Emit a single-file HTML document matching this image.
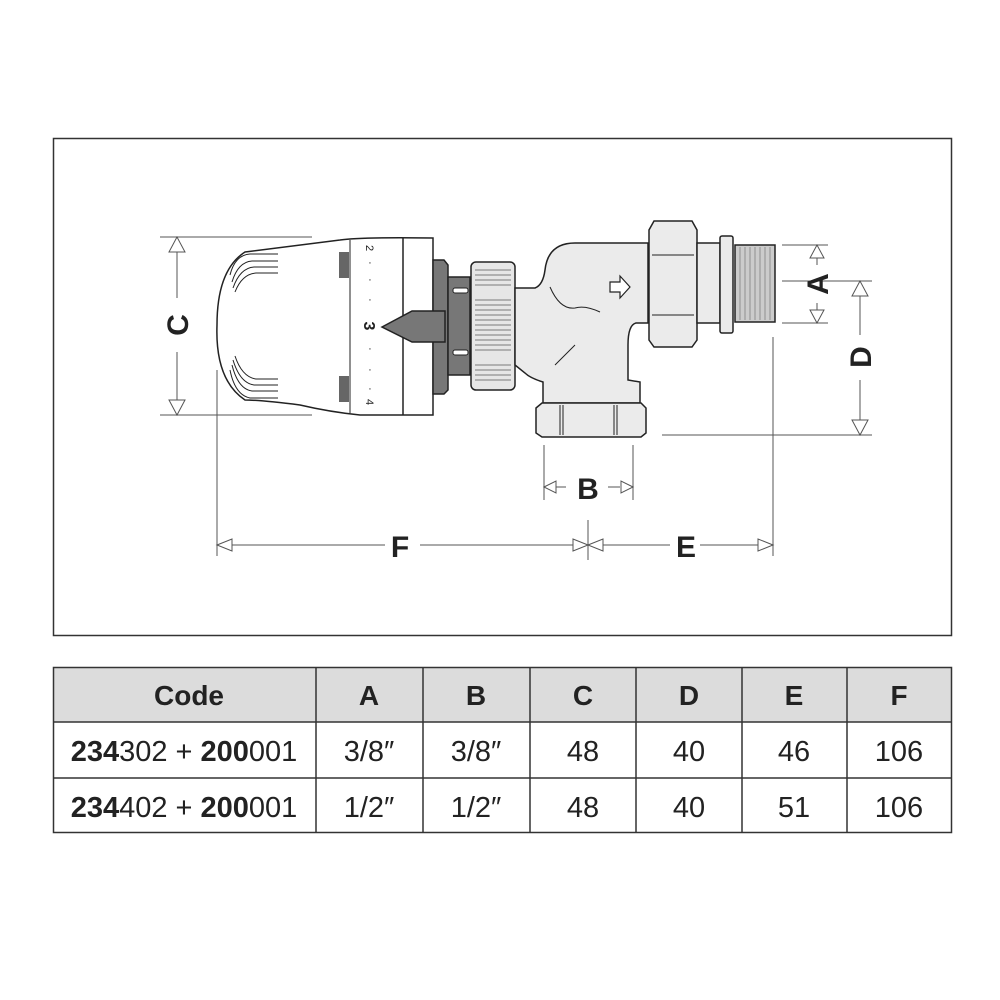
<!DOCTYPE html>
<html><head><meta charset="utf-8"><style>
html,body{margin:0;padding:0;background:#fff;}
svg{display:block;}
text{font-family:"Liberation Sans",sans-serif;}
</style></head><body>
<svg width="1000" height="1000" viewBox="0 0 1000 1000" xmlns="http://www.w3.org/2000/svg">
<rect x="53.5" y="138.5" width="898" height="497" fill="#fff" stroke="#333" stroke-width="1.5"/>
<!-- dimension lines -->
<g stroke="#555" stroke-width="1" fill="#fff">
<line x1="160" y1="237" x2="312" y2="237"/>
<line x1="160" y1="415" x2="312" y2="415"/>
<line x1="177" y1="252" x2="177" y2="298"/>
<line x1="177" y1="352" x2="177" y2="400"/>
<polygon points="177,237 169,252 185,252"/>
<polygon points="177,415 169,400 185,400"/>
<line x1="217" y1="370" x2="217" y2="556"/>
<line x1="773" y1="337" x2="773" y2="556"/>
<line x1="588" y1="520" x2="588" y2="560"/>
<line x1="544" y1="445" x2="544" y2="500"/>
<line x1="633" y1="445" x2="633" y2="500"/>
<line x1="556" y1="487" x2="566" y2="487"/>
<line x1="608" y1="487" x2="620" y2="487"/>
<polygon points="544,487 556,481 556,493"/>
<polygon points="633,487 621,481 621,493"/>
<line x1="232" y1="545" x2="385" y2="545"/>
<line x1="420" y1="545" x2="573" y2="545"/>
<line x1="603" y1="545" x2="670" y2="545"/>
<line x1="700" y1="545" x2="758" y2="545"/>
<polygon points="217,545 232,539 232,551"/>
<polygon points="588,545 573,539 573,551"/>
<polygon points="588,545 603,539 603,551"/>
<polygon points="773,545 758,539 758,551"/>
<line x1="782" y1="245" x2="828" y2="245"/>
<line x1="782" y1="323" x2="828" y2="323"/>
<line x1="817" y1="258" x2="817" y2="265"/>
<line x1="817" y1="303" x2="817" y2="310"/>
<polygon points="817,245 810,258 824,258"/>
<polygon points="817,323 810,310 824,310"/>
<line x1="782" y1="281" x2="872" y2="281"/>
<line x1="662" y1="435" x2="872" y2="435"/>
<line x1="860" y1="296" x2="860" y2="335"/>
<line x1="860" y1="380" x2="860" y2="420"/>
<polygon points="860,281 852,296 868,296"/>
<polygon points="860,435 852,420 868,420"/>
</g>
<g font-weight="bold" font-size="30" fill="#222" text-anchor="middle">
<text x="177" y="336" transform="rotate(-90 177 325)">C</text>
<text x="400" y="557">F</text>
<text x="588" y="499">B</text>
<text x="686" y="557">E</text>
<text x="817" y="295" transform="rotate(-90 817 284)">A</text>
<text x="860" y="368" transform="rotate(-90 860 357)">D</text>
</g>
<!-- thermostatic head -->
<g stroke="#222" stroke-width="1.5">
<path d="M245,252 Q300,245 340,240 Q360,237 433,238 L433,415 L360,415 Q330,412 300,405 Q260,400 245,400 Q215,380 217,325 Q217,270 245,252Z" fill="#fff"/>
<line x1="403" y1="238" x2="403" y2="415"/>
<line x1="350" y1="240" x2="350" y2="413" stroke-width="1"/>
<rect x="339" y="252" width="10" height="26" fill="#666" stroke="none"/>
<rect x="339" y="376" width="10" height="26" fill="#666" stroke="none"/>
<path d="M230,275 Q235,255 250,254 L278,254 M232,282 Q238,262 252,261 L278,261 M233,288 Q240,268 254,267 L278,267 M235,292 Q242,274 256,273 L278,273" fill="none" stroke-width="1"/>
<path d="M230,370 Q235,395 250,398 L278,398 M232,365 Q238,389 252,391 L278,391 M233,360 Q240,383 254,385 L278,385 M235,356 Q242,377 256,379 L278,379" fill="none" stroke-width="1"/>
<path d="M433,260 L444,260 L448,265 L448,390 L444,394 L433,394Z" fill="#777"/>
<rect x="448" y="277" width="22" height="98" fill="#777"/>
<rect x="453" y="288" width="15" height="5" rx="2" fill="#fff" stroke-width="1"/>
<rect x="453" y="350" width="15" height="5" rx="2" fill="#fff" stroke-width="1"/>
<polygon points="382,327 412,311 445,311 445,342 412,342" fill="#777"/>
<rect x="471" y="262" width="44" height="128" rx="5" fill="#e6e6e6"/>
</g>
<g stroke="#555" stroke-width="0.8">
<line x1="475" y1="270" x2="511" y2="270"/><line x1="475" y1="275" x2="511" y2="275"/><line x1="475" y1="280" x2="511" y2="280"/><line x1="475" y1="285" x2="511" y2="285"/>
<line x1="475" y1="300" x2="511" y2="300"/><line x1="475" y1="305" x2="511" y2="305"/><line x1="475" y1="310" x2="511" y2="310"/><line x1="475" y1="315" x2="511" y2="315"/><line x1="475" y1="320" x2="511" y2="320"/><line x1="475" y1="325" x2="511" y2="325"/><line x1="475" y1="330" x2="511" y2="330"/><line x1="475" y1="335" x2="511" y2="335"/><line x1="475" y1="340" x2="511" y2="340"/><line x1="475" y1="345" x2="511" y2="345"/><line x1="475" y1="350" x2="511" y2="350"/>
<line x1="475" y1="365" x2="511" y2="365"/><line x1="475" y1="370" x2="511" y2="370"/><line x1="475" y1="375" x2="511" y2="375"/><line x1="475" y1="380" x2="511" y2="380"/>
</g>
<g font-size="11" fill="#222" text-anchor="middle">
<text x="370" y="252" transform="rotate(90 370 248)">2</text>
<text x="370" y="406" transform="rotate(90 370 402)">4</text>
<text x="370" y="332" font-size="16" font-weight="bold" transform="rotate(90 370 326)">3</text>
<text x="370" y="266">·</text><text x="370" y="283">·</text><text x="370" y="303">·</text>
<text x="370" y="352">·</text><text x="370" y="373">·</text><text x="370" y="392">·</text>
</g>
<!-- valve body -->
<g stroke="#222" stroke-width="1.5" fill="#ebebeb">
<path d="M515,288 L535,288 Q543,285 545,270 Q548,243 575,243 L648,243 L648,323 L636,323 Q628,325 628,345 L628,380 L640,382 L640,403 L543,403 L543,382 Q530,378 525,373 L515,365Z"/>
<path d="M536,408 L542,403 L641,403 L646,408 L646,433 L641,437 L542,437 L536,433Z"/>
<line x1="560" y1="405" x2="560" y2="435" stroke-width="1"/><line x1="563" y1="405" x2="563" y2="435" stroke-width="1"/>
<line x1="614" y1="405" x2="614" y2="435" stroke-width="1"/><line x1="617" y1="405" x2="617" y2="435" stroke-width="1"/>
<path d="M654,221 L692,221 L697,230 L697,340 L692,347 L654,347 L649,340 L649,230Z"/>
<path d="M652,255 L694,255 M652,315 L694,315" fill="none" stroke-width="1"/>
<rect x="697" y="243" width="23" height="80"/>
<rect x="720" y="236" width="13" height="97" rx="2"/>
<rect x="735" y="245" width="40" height="77" fill="#ccc"/>
<path d="M610,282 L620,282 L620,276 L630,287 L620,298 L620,292 L610,292Z" fill="#fff" stroke-width="1.2"/>
<path d="M550,287 Q560,310 575,308 Q585,305 600,312 M555,365 L575,345" fill="none" stroke-width="1"/>
</g>
<g stroke="#777" stroke-width="0.7">
<line x1="740" y1="247" x2="740" y2="320"/><line x1="745" y1="247" x2="745" y2="320"/><line x1="750" y1="247" x2="750" y2="320"/><line x1="755" y1="247" x2="755" y2="320"/><line x1="760" y1="247" x2="760" y2="320"/><line x1="765" y1="247" x2="765" y2="320"/><line x1="770" y1="247" x2="770" y2="320"/>
</g>
<!-- table -->
<rect x="53.5" y="667.5" width="898" height="54" fill="#dcdcdc"/>
<g stroke="#333" stroke-width="1.5" fill="none">
<rect x="53.5" y="667.5" width="898" height="165"/>
<line x1="53" y1="722" x2="952" y2="722"/>
<line x1="53" y1="778" x2="952" y2="778"/>
<line x1="316" y1="667" x2="316" y2="833"/>
<line x1="423" y1="667" x2="423" y2="833"/>
<line x1="530" y1="667" x2="530" y2="833"/>
<line x1="636" y1="667" x2="636" y2="833"/>
<line x1="742" y1="667" x2="742" y2="833"/>
<line x1="847" y1="667" x2="847" y2="833"/>
</g>
<g font-size="28" font-weight="bold" fill="#222" text-anchor="middle">
<text x="189" y="705">Code</text><text x="369" y="705">A</text><text x="476" y="705">B</text><text x="583" y="705">C</text><text x="689" y="705">D</text><text x="794" y="705">E</text><text x="899" y="705">F</text>
</g>
<g font-size="29" fill="#222" text-anchor="middle">
<text x="184" y="761"><tspan font-weight="bold">234</tspan>302 + <tspan font-weight="bold">200</tspan>001</text>
<text x="369" y="761">3/8″</text><text x="476" y="761">3/8″</text><text x="583" y="761">48</text><text x="689" y="761">40</text><text x="794" y="761">46</text><text x="899" y="761">106</text>
<text x="184" y="817"><tspan font-weight="bold">234</tspan>402 + <tspan font-weight="bold">200</tspan>001</text>
<text x="369" y="817">1/2″</text><text x="476" y="817">1/2″</text><text x="583" y="817">48</text><text x="689" y="817">40</text><text x="794" y="817">51</text><text x="899" y="817">106</text>
</g>
</svg>
</body></html>
